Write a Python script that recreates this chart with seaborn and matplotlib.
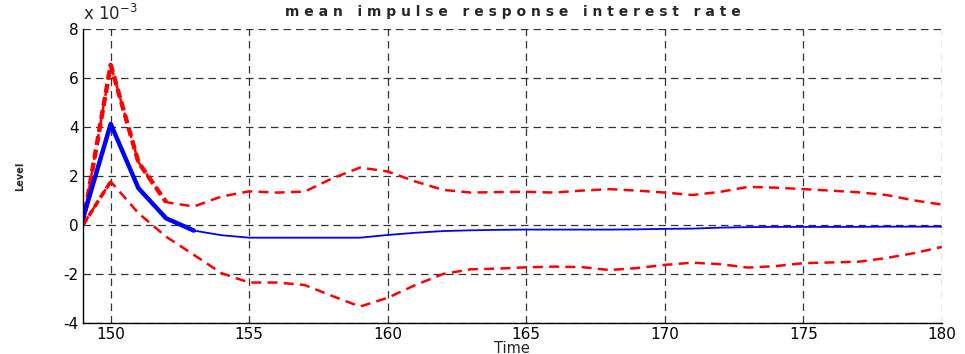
import numpy as np
import pandas as pd
import seaborn as sns
import matplotlib.pyplot as plt

# values in units of 1e-3
periods = list(range(149, 181))
mean_resp = [0.27, 4.12, 1.5, 0.27, -0.23, -0.42, -0.52, -0.52, -0.52, -0.52,
             -0.52, -0.41, -0.32, -0.25, -0.22, -0.2, -0.19, -0.19, -0.19, -0.19,
             -0.18, -0.16, -0.15, -0.11, -0.09, -0.08, -0.08, -0.08, -0.08, -0.07,
             -0.07, -0.07]
upper_band = [0.04, 6.53, 2.56, 0.93, 0.75, 1.16, 1.37, 1.32, 1.36, 1.9,
              2.34, 2.18, 1.77, 1.43, 1.32, 1.34, 1.35, 1.32, 1.4, 1.46,
              1.4, 1.32, 1.22, 1.35, 1.55, 1.52, 1.46, 1.4, 1.33, 1.22,
              1.0, 0.83]
lower_band = [0.0, 1.77, 0.48, -0.48, -1.22, -1.97, -2.35, -2.35, -2.45, -2.9,
              -3.33, -2.97, -2.45, -2.0, -1.81, -1.78, -1.73, -1.7, -1.72, -1.84,
              -1.76, -1.63, -1.54, -1.6, -1.74, -1.68, -1.56, -1.53, -1.5, -1.35,
              -1.15, -0.9]

df = pd.DataFrame({'Time': periods, 'mean': mean_resp,
                   'upper': upper_band, 'lower': lower_band})

sns.set_style('white')
plt.rcParams['font.family'] = ['DejaVu Sans']
plt.rcParams['axes.unicode_minus'] = False

fig = plt.figure(figsize=(9.65, 3.54), dpi=100)
ax = fig.add_axes([0.086, 0.0876, 0.890, 0.831])

# thin full lines
sns.lineplot(data=df, x='Time', y='upper', ax=ax, color='red', lw=1.8,
             linestyle=(0, (4, 2.5)))
sns.lineplot(data=df, x='Time', y='lower', ax=ax, color='red', lw=1.8,
             linestyle=(0, (4, 2.5)))
sns.lineplot(data=df, x='Time', y='mean', ax=ax, color='blue', lw=1.3)

# thicker start of the curves
sns.lineplot(data=df.iloc[:4], x='Time', y='upper', ax=ax, color='red', lw=3.2,
             linestyle=(0, (2, 1)))
sns.lineplot(data=df.iloc[:2], x='Time', y='lower', ax=ax, color='red', lw=2.6,
             linestyle=(0, (2, 1)))
sns.lineplot(data=df.iloc[:5], x='Time', y='mean', ax=ax, color='blue', lw=3.2)

ax.set_xlim(149, 180)
ax.set_ylim(-4, 8)
ax.set_xticks(range(150, 181, 5))
ax.set_yticks(range(-4, 9, 2))
ax.grid(True, color='black', linestyle=(0, (6, 4)), lw=0.9, alpha=0.8)
ax.set_axisbelow(True)

for side in ['top', 'right']:
    ax.spines[side].set_visible(False)
for side in ['left', 'bottom']:
    ax.spines[side].set_color('black')
    ax.spines[side].set_linewidth(1.0)

ax.tick_params(axis='both', direction='in', length=3, labelsize=11,
               colors='black', pad=3)

ax.set_title('m e a n   i m p u l s e   r e s p o n s e   i n t e r e s t   r a t e',
             fontsize=10, fontweight='bold', pad=9)
ax.set_xlabel('Time', fontsize=10.5, labelpad=-1)
ax.set_ylabel('Level', fontsize=7, fontweight='bold', labelpad=28)
ax.text(0.0, 1.015, 'x 10$^{-3}$', transform=ax.transAxes, fontsize=12,
        ha='left', va='bottom')

fig.savefig('out.png', dpi=100)
